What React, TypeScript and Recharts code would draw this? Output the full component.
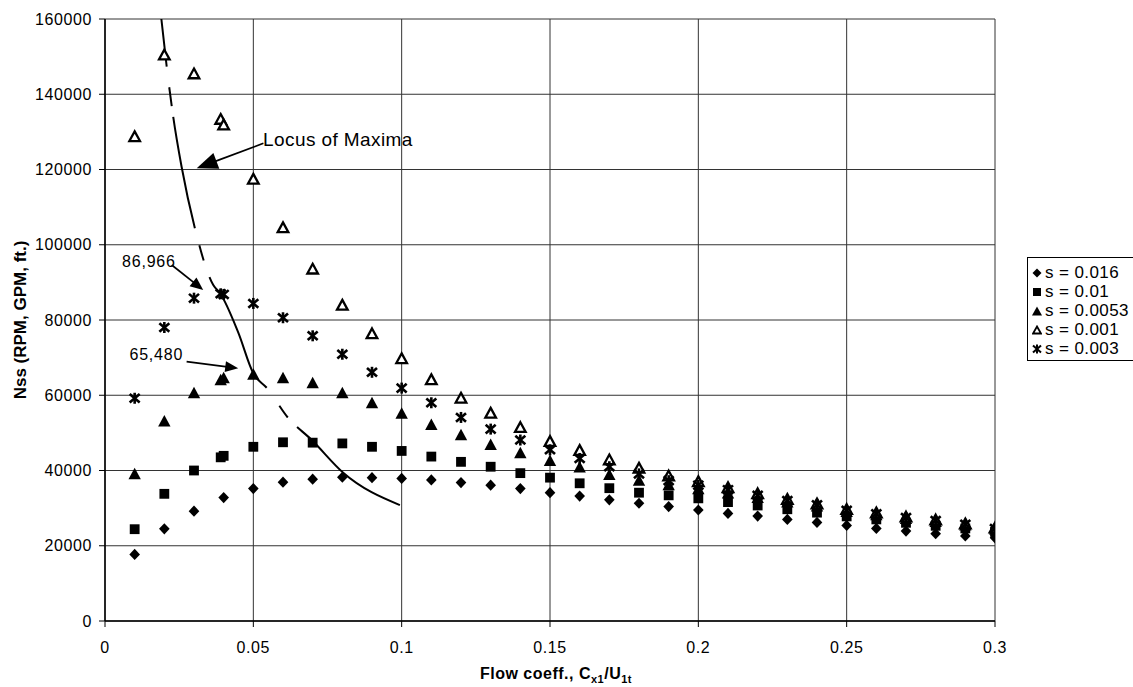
import React from 'react';
import {
  ComposedChart,
  Scatter,
  Line,
  XAxis,
  YAxis,
  CartesianGrid,
  ReferenceLine,
  ReferenceDot,
  Legend,
  Label,
} from 'recharts';

// ---------- data ----------
const flowCoeff = [
  0.01, 0.02, 0.03, 0.04, 0.05, 0.06, 0.07, 0.08, 0.09, 0.1,
  0.11, 0.12, 0.13, 0.14, 0.15, 0.16, 0.17, 0.18, 0.19, 0.2,
  0.21, 0.22, 0.23, 0.24, 0.25, 0.26, 0.27, 0.28, 0.29, 0.3,
];

const nssS016 = [
  17700, 24500, 29200, 32800, 35200, 36900, 37700, 38200, 38100, 37900,
  37500, 36800, 36100, 35200, 34100, 33200, 32200, 31300, 30400, 29500,
  28600, 27900, 27000, 26200, 25400, 24600, 23900, 23200, 22600, 22100,
];
const nssS01 = [
  24400, 33800, 40000, 43900, 46300, 47500, 47400, 47200, 46300, 45200,
  43700, 42300, 41000, 39300, 38100, 36600, 35300, 34100, 33400, 32600,
  31600, 30700, 29700, 28800, 27800, 27000, 26100, 25300, 24600, 23700,
];
const nssS0053 = [
  39000, 53000, 60500, 64500, 65480, 64500, 63200, 60500, 57900, 55100,
  52100, 49400, 46800, 44600, 42500, 40800, 38800, 37300, 36100, 35000,
  33900, 32700, 31500, 30400, 29000, 28100, 27100, 26300, 25400, 24300,
];
const nssS001 = [
  128700, 150400, 145400, 131800, 117400, 104500, 93500, 83900, 76300, 69700,
  64100, 59200, 55200, 51400, 47700, 45300, 42800, 40600, 38500, 37000,
  35400, 33800, 32300, 31100, 29600, 28700, 27600, 26800, 25800, 24700,
];
const nssS003 = [
  59200, 78000, 85800, 86800, 84400, 80600, 75800, 70900, 66100, 61900,
  58000, 54100, 51000, 48100, 45500, 43200, 41000, 39100, 37300, 36100,
  34900, 33400, 32000, 30900, 29400, 28500, 27500, 26700, 25700, 24600,
];

// extra point near the optimum flow coefficient
const optFlowCoeff = 0.039;
const optS01 = 43500;
const optS0053 = 64000;
const optS001 = 133300;
const optS003 = 86966;

// locus of maxima curve
const locusFlow = [0.019, 0.0208, 0.023, 0.0258, 0.0303, 0.0365, 0.0388, 0.0449, 0.05, 0.0546, 0.0617, 0.0697, 0.0803, 0.0994];
const locusNss = [160000, 147300, 134000, 120800, 104400, 89300, 87100, 76700, 65800, 61900, 54000, 48100, 39400, 30800];

const xTicks = [0, 0.05, 0.1, 0.15, 0.2, 0.25, 0.3];
const yTicks = [0, 20000, 40000, 60000, 80000, 100000, 120000, 140000, 160000];

const seriesNames = ['s = 0.016', 's = 0.01', 's = 0.0053', 's = 0.001', 's = 0.003'];

// annotations (data coordinates)
const annotationTexts = [
  { text: 'Locus of Maxima', x: 0.0533, y: 128100, anchor: 'start', size: 19, spacing: 0.4 },
  { text: '86,966', x: 0.0148, y: 95690, anchor: 'middle', size: 16, spacing: 0.8 },
  { text: '65,480', x: 0.0173, y: 70970, anchor: 'middle', size: 16, spacing: 0.8 },
];
const annotationArrows = [
  { x1: 0.0534, y1: 126970, x2: 0.0309, y2: 120330, head: 21, half: 8.5 },
  { x1: 0.0225, y1: 94625, x2: 0.0331, y2: 87980, head: 13, half: 5.5 },
  { x1: 0.0275, y1: 68920, x2: 0.0449, y2: 67170, head: 13, half: 5.5 },
];

// ---------- build tables ----------
const mk = (vals: number[], extra?: number) => {
  const d = flowCoeff.map((x, i) => ({ x, y: vals[i] }));
  if (extra !== undefined) d.splice(3, 0, { x: optFlowCoeff, y: extra });
  return d;
};
const dataS016 = mk(nssS016);
const dataS01 = mk(nssS01, optS01);
const dataS0053 = mk(nssS0053, optS0053);
const dataS001 = mk(nssS001, optS001);
const dataS003 = mk(nssS003, optS003);
const locusData = locusFlow.map((x, i) => ({ x, y: locusNss[i] }));

// ---------- marker shapes ----------
const DiamondM = (p: any) => {
  const { cx, cy } = p;
  const r = 5.6;
  return <path d={`M${cx},${cy - r}L${cx + r * 0.95},${cy}L${cx},${cy + r}L${cx - r * 0.95},${cy}Z`} fill="#000" />;
};
const SquareM = (p: any) => {
  const { cx, cy } = p;
  const r = 4.9;
  return <rect x={cx - r} y={cy - r} width={2 * r} height={2 * r} fill="#000" />;
};
const TriM = (p: any) => {
  const { cx, cy } = p;
  return <path d={`M${cx},${cy - 6.5}L${cx + 6.2},${cy + 5}L${cx - 6.2},${cy + 5}Z`} fill="#000" />;
};
const OpenTriM = (p: any) => {
  const { cx, cy } = p;
  return (
    <path
      d={`M${cx},${cy - 5.4}L${cx + 5.3},${cy + 4.3}L${cx - 5.3},${cy + 4.3}Z`}
      fill="#fff"
      stroke="#000"
      strokeWidth={2.3}
      strokeLinejoin="miter"
    />
  );
};
const StarM = (p: any) => {
  const { cx, cy } = p;
  return (
    <g stroke="#000" strokeWidth={2.6} strokeLinecap="butt">
      <line x1={cx - 5} y1={cy - 4.3} x2={cx + 5} y2={cy + 4.3} />
      <line x1={cx - 5} y1={cy + 4.3} x2={cx + 5} y2={cy - 4.3} />
      <line x1={cx} y1={cy - 5.5} x2={cx} y2={cy + 5.5} />
    </g>
  );
};

const legendIcons: Record<string, React.ReactNode> = {
  's = 0.016': <path d="M5,0.5L9.5,5L5,9.5L0.5,5Z" fill="#000" />,
  's = 0.01': <rect x={1} y={1} width={8} height={8} fill="#000" />,
  's = 0.0053': <path d="M5,0.5L10,9.5L0,9.5Z" fill="#000" />,
  's = 0.001': <path d="M5,1.5L9,8.5L1,8.5Z" fill="#fff" stroke="#000" strokeWidth={1.8} />,
  's = 0.003': (
    <g stroke="#000" strokeWidth={2}>
      <line x1={1} y1={1.5} x2={9} y2={8.5} />
      <line x1={1} y1={8.5} x2={9} y2={1.5} />
      <line x1={5} y1={0.5} x2={5} y2={9.5} />
    </g>
  ),
};

const renderLegend = (props: any) => {
  const items = (props.payload || []).filter((e: any) => e.type !== 'none' && seriesNames.includes(e.value));
  items.sort((a: any, b: any) => seriesNames.indexOf(a.value) - seriesNames.indexOf(b.value));
  return (
    <div
      style={{
        borderTop: '1px solid #000',
        borderLeft: '1px solid #000',
        borderBottom: '1px solid #000',
        background: '#fff',
        padding: '5px 0 2px 4px',
        fontFamily: '"Liberation Sans", Arial, sans-serif',
        fontSize: 17,
        lineHeight: '19px',
        letterSpacing: 0.4,
        color: '#000',
        whiteSpace: 'nowrap',
      }}
    >
      {items.map((e: any) => (
        <div key={e.value} style={{ display: 'flex', alignItems: 'center', height: 19 }}>
          <svg width={10} height={10} style={{ marginRight: 3, flex: 'none' }}>
            {legendIcons[e.value]}
          </svg>
          <span>{e.value}</span>
        </div>
      ))}
    </div>
  );
};

const ArrowShape = (head: number, half: number) => (p: any) => {
  const { x1, y1, x2, y2 } = p;
  const dx = x2 - x1;
  const dy = y2 - y1;
  const len = Math.sqrt(dx * dx + dy * dy) || 1;
  const ux = dx / len;
  const uy = dy / len;
  const bx = x2 - ux * head;
  const by = y2 - uy * head;
  const nx = -uy;
  const ny = ux;
  return (
    <g>
      <line x1={x1} y1={y1} x2={bx + ux * 2} y2={by + uy * 2} stroke="#000" strokeWidth={1.7} />
      <path
        d={`M${x2},${y2}L${bx + nx * half},${by + ny * half}L${bx - nx * half},${by - ny * half}Z`}
        fill="#000"
      />
    </g>
  );
};

const TextShape = (text: string, anchor: string, size: number, spacing: number) => (p: any) => (
  <text
    x={p.cx}
    y={p.cy}
    dy="0.35em"
    textAnchor={anchor as any}
    fontSize={size}
    letterSpacing={spacing}
    fontFamily='"Liberation Sans", Arial, sans-serif'
    fill="#000"
  >
    {text}
  </text>
);

const XTitle = (props: any) => {
  const vb = props.viewBox || { x: 105, y: 621, width: 890, height: 66 };
  const cx = vb.x + vb.width / 2 + 6;
  return (
    <text
      x={cx}
      y={vb.y + 58}
      textAnchor="middle"
      fontFamily='"Liberation Sans", Arial, sans-serif'
      fontWeight="bold"
      fontSize={16}
      letterSpacing={0.5}
      fill="#000"
    >
      Flow coeff., C
      <tspan dy={4} fontSize={11}>x1</tspan>
      <tspan dy={-4} fontSize={16}>/U</tspan>
      <tspan dy={4} fontSize={11}>1t</tspan>
    </text>
  );
};

const YTitle = (props: any) => {
  const vb = props.viewBox || { x: 0, y: 19, width: 105, height: 602 };
  const x = vb.x + 26;
  const y = vb.y + vb.height / 2;
  return (
    <text
      x={x}
      y={y}
      transform={`rotate(-90, ${x}, ${y})`}
      textAnchor="middle"
      fontFamily='"Liberation Sans", Arial, sans-serif'
      fontWeight="bold"
      fontSize={17}
      fill="#000"
    >
      Nss (RPM, GPM, ft.)
    </text>
  );
};

const tickStyle = {
  fontSize: 16,
  fill: '#000',
  fontFamily: '"Liberation Sans", Arial, sans-serif',
  letterSpacing: 0.6,
};

export default function App() {
  return (
    <div style={{ width: 1133, height: 687, background: '#fff', fontFamily: '"Liberation Sans", Arial, sans-serif' }}>
      <style>{'body{margin:0;background:#fff;overflow:hidden}'}</style>
      <ComposedChart width={1133} height={687} margin={{ top: 19, right: 138, bottom: 0, left: 0 }}>
        <CartesianGrid stroke="#333" strokeWidth={1} />
        <XAxis
          type="number"
          dataKey="x"
          domain={[0, 0.3]}
          ticks={xTicks}
          interval={0}
          height={66}
          tickSize={6}
          tickMargin={15}
          tick={tickStyle}
          axisLine={{ stroke: '#000', strokeWidth: 1.5 }}
          tickLine={{ stroke: '#000' }}
          allowDataOverflow
        >
          <Label content={XTitle} />
        </XAxis>
        <YAxis
          type="number"
          dataKey="y"
          domain={[0, 160000]}
          ticks={yTicks}
          interval={0}
          width={105}
          tickSize={6}
          tickMargin={7}
          tick={tickStyle}
          axisLine={{ stroke: '#000', strokeWidth: 1.5 }}
          tickLine={{ stroke: '#000' }}
          allowDataOverflow
        >
          <Label content={YTitle} />
        </YAxis>

        <Scatter name={seriesNames[0]} data={dataS016} fill="#000" shape={DiamondM} isAnimationActive={false} />
        <Scatter name={seriesNames[1]} data={dataS01} fill="#000" shape={SquareM} isAnimationActive={false} />
        <Scatter name={seriesNames[2]} data={dataS0053} fill="#000" shape={TriM} isAnimationActive={false} />
        <Scatter name={seriesNames[3]} data={dataS001} fill="#000" shape={OpenTriM} isAnimationActive={false} />
        <Scatter name={seriesNames[4]} data={dataS003} fill="#000" shape={StarM} isAnimationActive={false} />

        <Line
          data={locusData}
          dataKey="y"
          type="monotone"
          stroke="#000"
          strokeWidth={2}
          strokeDasharray="48 20.5 19 11 113.5 17.7 15.7 17.6 126.3 22 14.4 13.3 160 40"
          dot={false}
          activeDot={false}
          legendType="none"
          isAnimationActive={false}
        />

        {annotationArrows.map((a, i) => (
          <ReferenceLine
            key={`arr${i}`}
            segment={[
              { x: a.x1, y: a.y1 },
              { x: a.x2, y: a.y2 },
            ]}
            stroke="#000"
            shape={ArrowShape(a.head, a.half)}
          />
        ))}
        {annotationTexts.map((t, i) => (
          <ReferenceDot
            key={`txt${i}`}
            x={t.x}
            y={t.y}
            r={0}
            shape={TextShape(t.text, t.anchor, t.size, t.spacing)}
          />
        ))}

        <Legend
          layout="vertical"
          align="center"
          verticalAlign="middle"
          content={renderLegend}
          wrapperStyle={{ left: 1027, top: 257, width: 106, right: 'auto', bottom: 'auto' }}
        />
      </ComposedChart>
    </div>
  );
}
